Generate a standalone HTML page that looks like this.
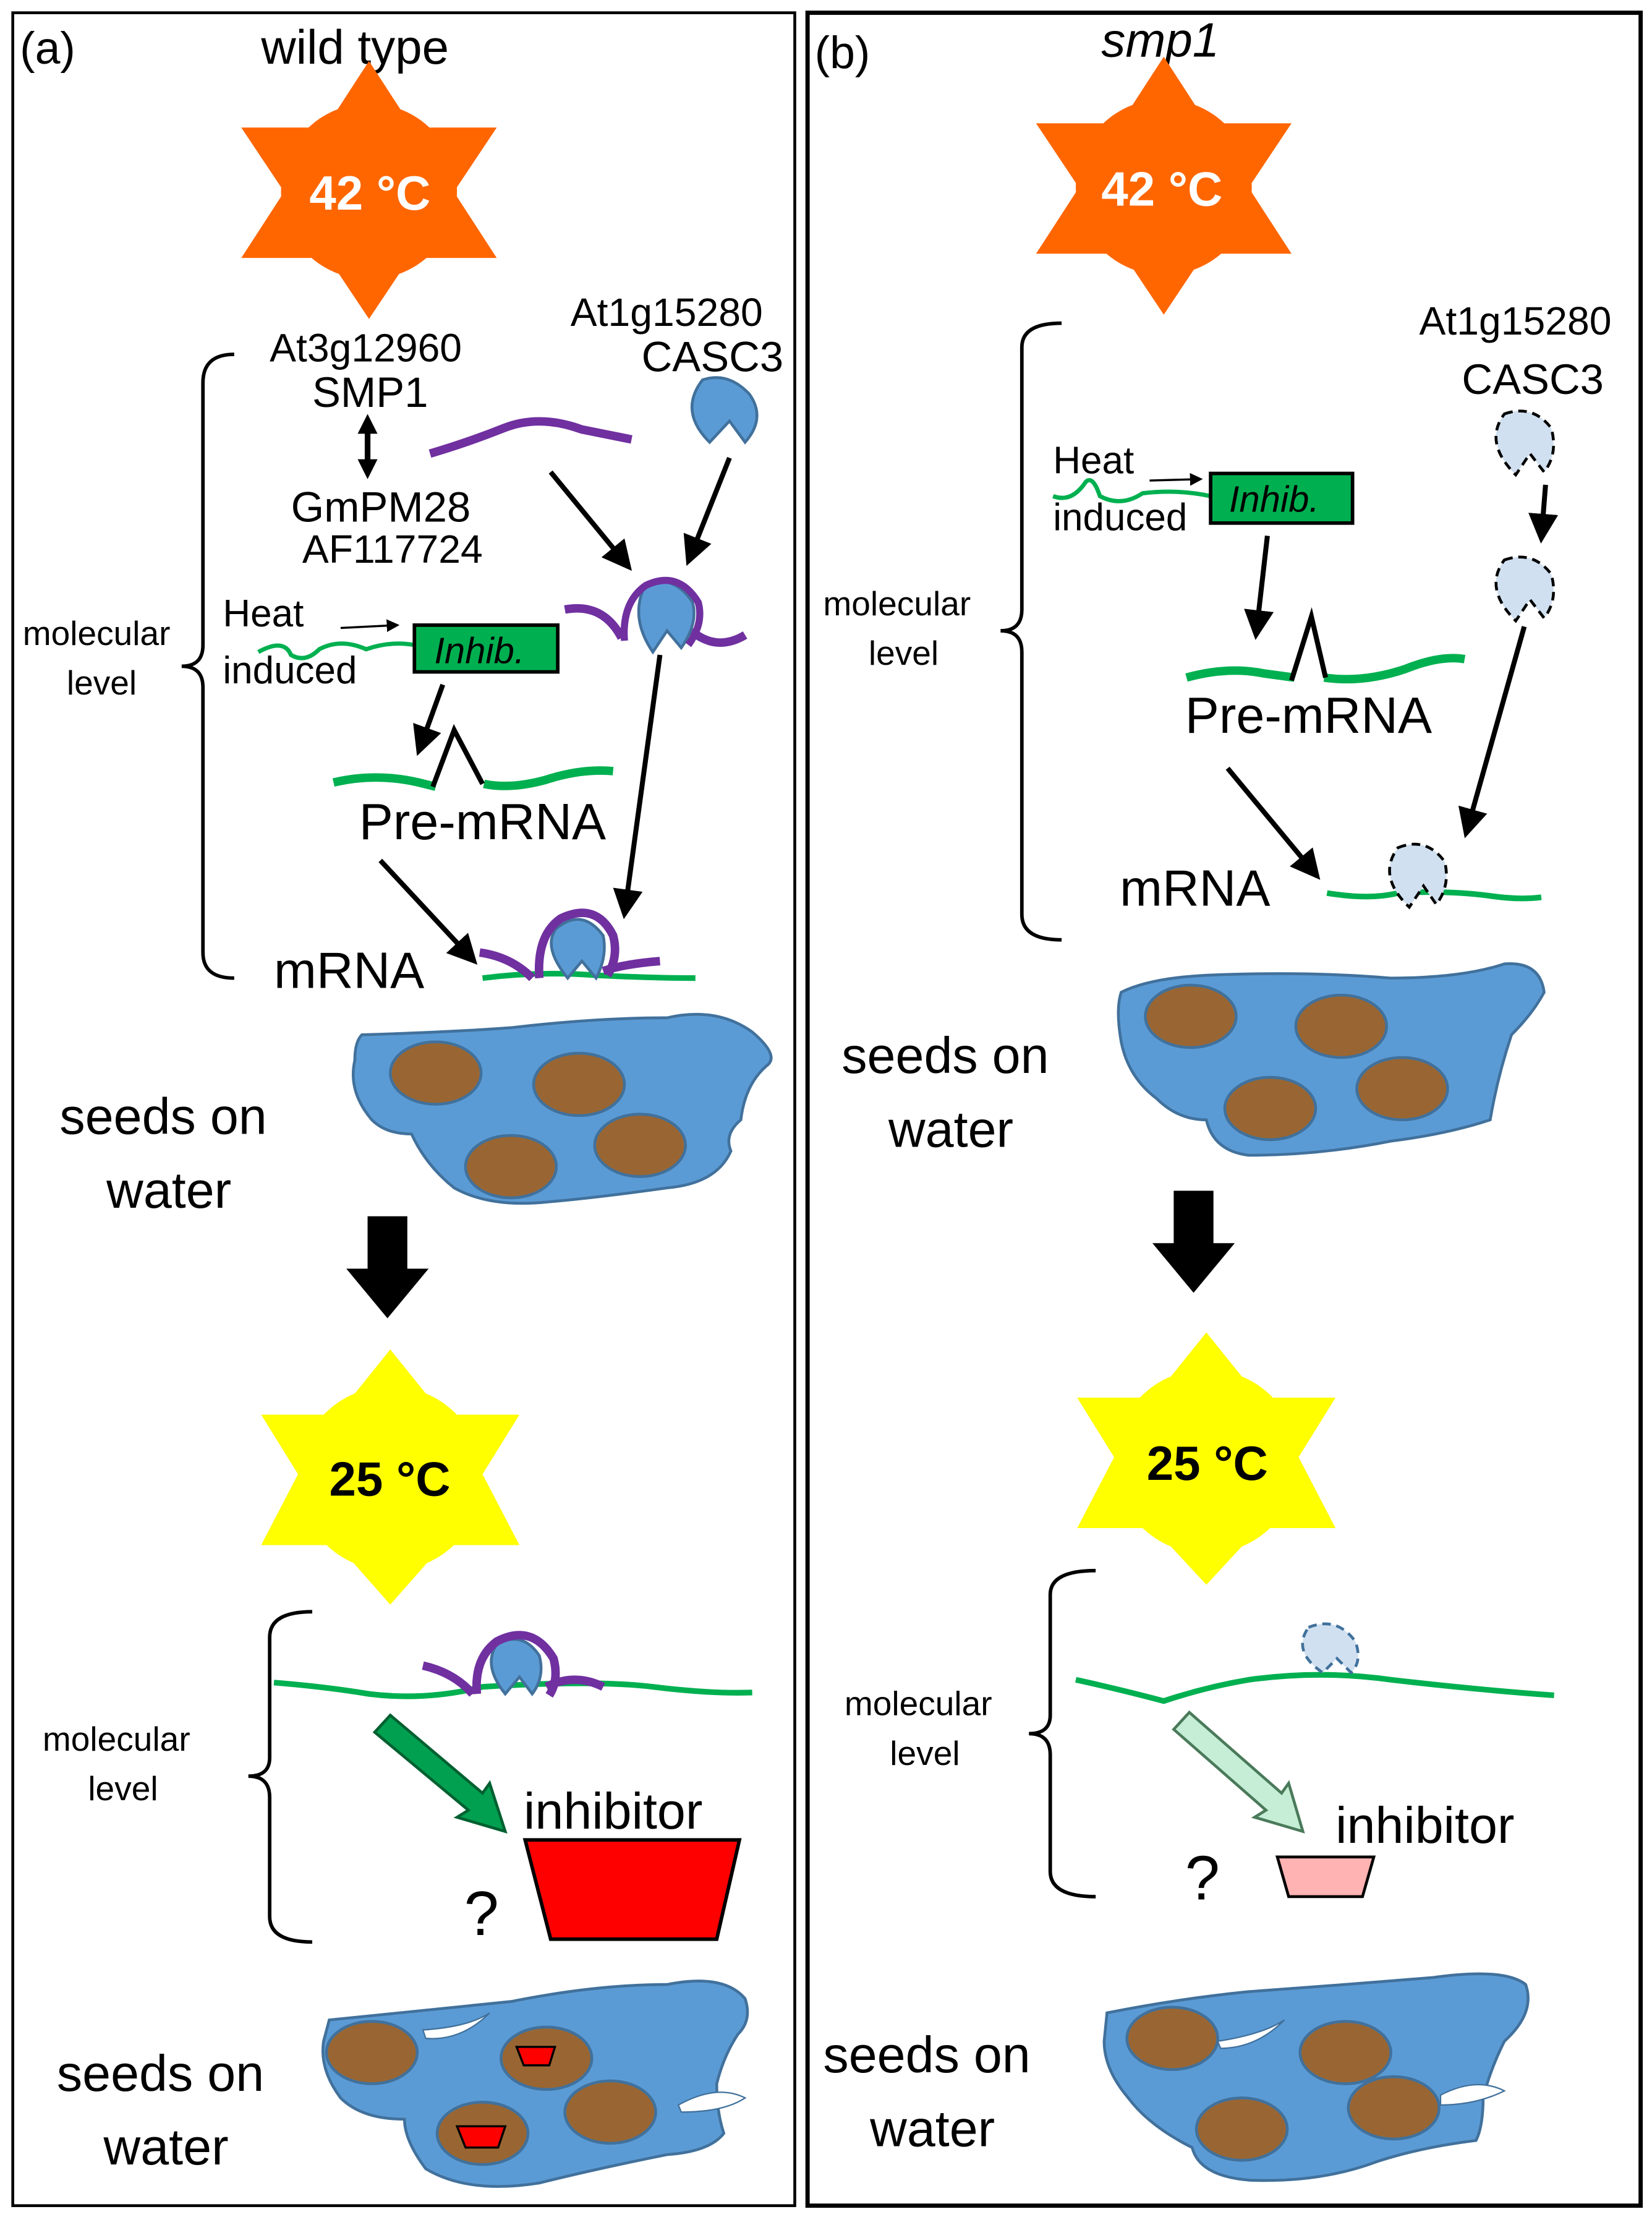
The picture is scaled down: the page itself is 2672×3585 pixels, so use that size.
<!DOCTYPE html>
<html><head><meta charset="utf-8"><style>html,body{margin:0;padding:0;background:#fff}svg{display:block}</style></head>
<body>
<svg width="2672" height="3585" viewBox="0 0 1164 1564" preserveAspectRatio="none" xmlns="http://www.w3.org/2000/svg" font-family="Liberation Sans, DejaVu Sans, sans-serif">
<defs>
<marker id="ah" markerWidth="6" markerHeight="6" refX="5" refY="3" orient="auto" markerUnits="strokeWidth"><path d="M0,0 L6,3 L0,6 z" fill="#000"/></marker>
</defs>
<!-- panels -->
<rect x="9" y="9" width="551" height="1547" fill="none" stroke="#000" stroke-width="2"/>
<rect x="569" y="9" width="587" height="1547" fill="none" stroke="#000" stroke-width="3"/>
<text x="14" y="45" font-size="32">(a)</text>
<text x="184" y="45" font-size="34">wild type</text>
<text x="574" y="48" font-size="32">(b)</text>
<text x="776" y="40" font-size="34" font-style="italic">smp1</text>

<!-- stars -->
<polygon points="260,43 350,93 350,180 260,225 170,180 170,93" fill="none"/>
<polygon points="260,43 350,182 170,182" fill="#ff6600"/>
<polygon points="260,225 350,90 170,90" fill="#ff6600"/>
<circle cx="260" cy="135" r="62" fill="#ff6600"/>
<text x="218" y="148" font-size="34" font-weight="bold" fill="#fff">42 °C</text>
<polygon points="820,40 910,179 730,179" fill="#ff6600"/>
<polygon points="820,222 910,87 730,87" fill="#ff6600"/>
<circle cx="820" cy="132" r="62" fill="#ff6600"/>
<text x="776" y="145" font-size="34" font-weight="bold" fill="#fff">42 °C</text>

<polygon points="275,952 312,998 366,998 340,1040 366,1090 312,1090 275,1132 238,1090 184,1090 210,1040 184,998 238,998" fill="#ffff00"/>
<circle cx="275" cy="1043" r="65" fill="#ffff00"/>
<text x="232" y="1055" font-size="34" font-weight="bold">25 °C</text>
<polygon points="850,940 887,986 941,986 915,1028 941,1078 887,1078 850,1118 813,1078 759,1078 785,1028 759,986 813,986" fill="#ffff00"/>
<circle cx="850" cy="1031" r="65" fill="#ffff00"/>
<text x="808" y="1044" font-size="34" font-weight="bold">25 °C</text>

<!-- Panel a molecular -->
<path d="M165,250 Q143,250 143,270 L143,455 Q143,470 128,470 Q143,470 143,485 L143,672 Q143,690 165,690" fill="none" stroke="#000" stroke-width="2.5"/>
<text x="16" y="455" font-size="24">molecular</text>
<text x="47" y="490" font-size="24">level</text>
<text x="190" y="255" font-size="28">At3g12960</text>
<text x="220" y="287" font-size="30">SMP1</text>
<line x1="259" y1="305" x2="259" y2="325" stroke="#000" stroke-width="4"/>
<polygon points="252,306 266,306 259,292" fill="#000"/>
<polygon points="252,324 266,324 259,338" fill="#000"/>
<text x="205" y="368" font-size="30">GmPM28</text>
<text x="213" y="397" font-size="28">AF117724</text>
<text x="402" y="230" font-size="28">At1g15280</text>
<text x="452" y="262" font-size="30">CASC3</text>
<path d="M303,320 Q330,312 355,302 Q380,292 410,303 L445,310" fill="none" stroke="#7030a0" stroke-width="6"/>
<path d="M495,268 Q513,262 528,278 Q540,295 525,312 L514,297 L500,312 Q478,290 495,268 z" fill="#5b9bd5" stroke="#41719c" stroke-width="2"/>
<line x1="388" y1="333" x2="443" y2="400" stroke="#000" stroke-width="3.5" marker-end="url(#ah)"/>
<line x1="514" y1="323" x2="485" y2="396" stroke="#000" stroke-width="3.5" marker-end="url(#ah)"/>
<!-- complex 1 -->
<path d="M398,430 Q425,425 438,450 M487,445 Q505,460 525,448" fill="none" stroke="#7030a0" stroke-width="6"/>
<path d="M455,412 Q475,405 488,425 Q492,440 480,457 L470,445 L460,460 Q443,435 455,412 z" fill="#5b9bd5" stroke="#41719c" stroke-width="2"/>
<path d="M440,452 Q438,425 455,413 Q478,402 492,425 Q496,440 485,455" fill="none" stroke="#7030a0" stroke-width="5"/>
<!-- heat induced -->
<text x="157" y="442" font-size="27">Heat</text>
<text x="157" y="482" font-size="27">induced</text>
<line x1="240" y1="443" x2="280" y2="441" stroke="#000" stroke-width="1.5" marker-end="url(#ah)"/>
<path d="M182,460 Q200,450 205,462 Q215,468 225,458 Q240,450 258,458 Q275,452 292,455" fill="none" stroke="#00b050" stroke-width="3"/>
<rect x="292" y="441" width="101" height="33" fill="#00b050" stroke="#000" stroke-width="2.5"/>
<text x="306" y="468" font-size="26" font-style="italic">Inhib.</text>
<line x1="312" y1="483" x2="295" y2="530" stroke="#000" stroke-width="3.5" marker-end="url(#ah)"/>
<path d="M235,552 Q265,545 295,552 L307,555 M341,553 Q360,557 385,550 Q410,542 432,544" fill="none" stroke="#00b050" stroke-width="6"/>
<path d="M305,555 L320,515 L340,553" fill="none" stroke="#000" stroke-width="3.5"/>
<text x="253" y="592" font-size="36">Pre-mRNA</text>
<line x1="465" y1="462" x2="440" y2="645" stroke="#000" stroke-width="3.5" marker-end="url(#ah)"/>
<line x1="268" y1="607" x2="334" y2="678" stroke="#000" stroke-width="3.5" marker-end="url(#ah)"/>
<text x="193" y="697" font-size="36">mRNA</text>
<path d="M340,690 Q380,685 420,688 Q460,690 490,690" fill="none" stroke="#00b050" stroke-width="4"/>
<path d="M338,672 Q360,675 375,690 M425,685 Q440,680 465,678" fill="none" stroke="#7030a0" stroke-width="6"/>
<path d="M392,655 Q410,640 425,660 Q428,675 420,690 L410,678 L400,690 Q382,668 392,655 z" fill="#5b9bd5" stroke="#41719c" stroke-width="2"/>
<path d="M380,690 Q378,660 395,648 Q420,636 432,660 Q436,675 428,688" fill="none" stroke="#7030a0" stroke-width="6"/>

<!-- seeds a top -->
<path d="M255,730 Q320,728 360,725 Q420,718 470,718 Q505,710 530,728 Q550,745 540,752 Q525,765 522,790 Q510,800 515,812 Q505,835 470,838 Q420,845 385,848 Q345,852 320,838 Q300,822 290,800 Q272,800 262,790 Q245,770 250,748 Q250,735 255,730 z" fill="#5b9bd5" stroke="#41719c" stroke-width="2"/>
<ellipse cx="307" cy="757" rx="32" ry="22" fill="#996633" stroke="#41719c" stroke-width="2"/>
<ellipse cx="408" cy="765" rx="32" ry="22" fill="#996633" stroke="#41719c" stroke-width="2"/>
<ellipse cx="360" cy="823" rx="32" ry="22" fill="#996633" stroke="#41719c" stroke-width="2"/>
<ellipse cx="451" cy="808" rx="32" ry="22" fill="#996633" stroke="#41719c" stroke-width="2"/>
<text x="42" y="800" font-size="36">seeds on</text>
<text x="75" y="852" font-size="36">water</text>
<polygon points="259,858 287,858 287,895 302,895 273,930 244,895 259,895" fill="#000"/>

<!-- a bottom molecular -->
<path d="M220,1137 Q190,1137 190,1155 L190,1240 Q190,1253 175,1253 Q190,1253 190,1268 L190,1352 Q190,1370 220,1370" fill="none" stroke="#000" stroke-width="2.5"/>
<text x="30" y="1235" font-size="24">molecular</text>
<text x="62" y="1270" font-size="24">level</text>
<path d="M193,1187 Q230,1190 260,1195 Q300,1200 340,1190 Q420,1185 460,1190 Q500,1195 530,1194" fill="none" stroke="#00b050" stroke-width="4"/>
<path d="M298,1175 Q320,1180 333,1195 M385,1190 Q405,1180 425,1190" fill="none" stroke="#7030a0" stroke-width="6"/>
<path d="M350,1160 Q368,1150 380,1168 Q384,1183 375,1195 L366,1183 L356,1195 Q340,1175 350,1160 z" fill="#5b9bd5" stroke="#41719c" stroke-width="2"/>
<path d="M336,1195 Q334,1170 350,1158 Q375,1145 390,1170 Q394,1185 387,1196" fill="none" stroke="#7030a0" stroke-width="6"/>
<polygon points="275,1210 340,1265 345,1258 356,1292 322,1282 330,1277 264,1222" fill="#00a050" stroke="#006030" stroke-width="2"/>
<text x="369" y="1290" font-size="36">inhibitor</text>
<polygon points="370,1298 521,1298 505,1368 388,1368" fill="#ff0000" stroke="#000" stroke-width="2.5"/>
<text x="327" y="1365" font-size="44">?</text>

<!-- seeds a bottom -->
<path d="M232,1425 Q300,1418 360,1412 Q420,1400 470,1400 Q510,1392 525,1410 Q530,1425 520,1435 Q510,1450 505,1470 Q505,1490 510,1505 Q500,1518 470,1520 Q420,1530 380,1540 Q330,1548 300,1530 Q285,1510 285,1495 Q255,1495 240,1480 Q225,1460 228,1440 z" fill="#5b9bd5" stroke="#41719c" stroke-width="2"/>
<path d="M298,1432 Q330,1430 345,1420 Q325,1440 300,1438 z" fill="#fff" stroke="#41719c"/>
<path d="M478,1485 Q505,1470 525,1480 Q510,1490 480,1490 z" fill="#fff" stroke="#41719c"/>
<ellipse cx="262" cy="1448" rx="32" ry="22" fill="#996633" stroke="#41719c" stroke-width="2"/>
<ellipse cx="385" cy="1452" rx="32" ry="22" fill="#996633" stroke="#41719c" stroke-width="2"/>
<ellipse cx="430" cy="1490" rx="32" ry="22" fill="#996633" stroke="#41719c" stroke-width="2"/>
<ellipse cx="340" cy="1505" rx="32" ry="22" fill="#996633" stroke="#41719c" stroke-width="2"/>
<polygon points="364,1444 391,1444 387,1457 369,1457" fill="#ff0000" stroke="#000" stroke-width="1.5"/>
<polygon points="322,1500 356,1500 351,1515 328,1515" fill="#ff0000" stroke="#000" stroke-width="1.5"/>
<text x="40" y="1475" font-size="36">seeds on</text>
<text x="73" y="1527" font-size="36">water</text>

<!-- Panel b molecular -->
<path d="M748,228 Q720,228 720,245 L720,430 Q720,445 705,445 Q720,445 720,460 L720,645 Q720,663 748,663" fill="none" stroke="#000" stroke-width="2.5"/>
<text x="580" y="434" font-size="24">molecular</text>
<text x="612" y="469" font-size="24">level</text>
<text x="1000" y="236" font-size="28">At1g15280</text>
<text x="1030" y="278" font-size="30">CASC3</text>
<path d="M1060,292 Q1080,285 1093,302 Q1098,320 1088,333 L1078,320 L1068,335 Q1045,312 1060,292 z" fill="#d0e0f0" stroke="#000" stroke-width="2" stroke-dasharray="6,4"/>
<line x1="1089" y1="342" x2="1086" y2="380" stroke="#000" stroke-width="3.5" marker-end="url(#ah)"/>
<path d="M1060,395 Q1080,388 1093,405 Q1098,423 1088,436 L1078,423 L1068,438 Q1045,415 1060,395 z" fill="#d0e0f0" stroke="#000" stroke-width="2" stroke-dasharray="6,4"/>
<line x1="1074" y1="442" x2="1033" y2="588" stroke="#000" stroke-width="3.5" marker-end="url(#ah)"/>
<text x="742" y="334" font-size="27">Heat</text>
<text x="742" y="374" font-size="27">induced</text>
<line x1="810" y1="339" x2="846" y2="338" stroke="#000" stroke-width="1.5" marker-end="url(#ah)"/>
<path d="M742,350 Q755,355 765,340 Q770,335 775,350 Q790,358 805,348 Q830,345 853,350" fill="none" stroke="#00b050" stroke-width="3"/>
<rect x="853" y="334" width="100" height="35" fill="#00b050" stroke="#000" stroke-width="2.5"/>
<text x="866" y="361" font-size="26" font-style="italic">Inhib.</text>
<line x1="893" y1="378" x2="885" y2="448" stroke="#000" stroke-width="3.5" marker-end="url(#ah)"/>
<path d="M836,478 Q865,470 890,475 L912,478 M933,478 Q960,482 990,472 Q1015,462 1032,465" fill="none" stroke="#00b050" stroke-width="6"/>
<path d="M910,480 L924,435 L934,478" fill="none" stroke="#000" stroke-width="3.5"/>
<text x="835" y="517" font-size="36">Pre-mRNA</text>
<line x1="865" y1="542" x2="928" y2="618" stroke="#000" stroke-width="3.5" marker-end="url(#ah)"/>
<text x="789" y="639" font-size="36">mRNA</text>
<path d="M935,630 Q965,635 985,630 Q1020,628 1050,632 Q1070,635 1086,633" fill="none" stroke="#00b050" stroke-width="4"/>
<path d="M985,598 Q1005,590 1018,608 Q1022,625 1012,638 L1003,625 L993,640 Q970,618 985,598 z" fill="#d0e0f0" stroke="#000" stroke-width="2" stroke-dasharray="6,4"/>

<!-- seeds b top -->
<path d="M790,700 Q810,690 850,688 Q920,685 980,690 Q1030,690 1060,680 Q1085,678 1088,700 Q1080,715 1065,730 Q1055,760 1050,790 Q1020,800 980,805 Q930,815 880,815 Q855,812 850,790 Q830,790 815,775 Q795,760 790,735 Q786,712 790,700 z" fill="#5b9bd5" stroke="#41719c" stroke-width="2"/>
<ellipse cx="839" cy="717" rx="32" ry="22" fill="#996633" stroke="#41719c" stroke-width="2"/>
<ellipse cx="945" cy="724" rx="32" ry="22" fill="#996633" stroke="#41719c" stroke-width="2"/>
<ellipse cx="895" cy="782" rx="32" ry="22" fill="#996633" stroke="#41719c" stroke-width="2"/>
<ellipse cx="988" cy="768" rx="32" ry="22" fill="#996633" stroke="#41719c" stroke-width="2"/>
<text x="593" y="757" font-size="36">seeds on</text>
<text x="626" y="809" font-size="36">water</text>
<polygon points="827,840 855,840 855,877 870,877 841,912 812,877 827,877" fill="#000"/>

<!-- b bottom molecular -->
<path d="M772,1108 Q740,1108 740,1125 L740,1210 Q740,1223 725,1223 Q740,1223 740,1238 L740,1320 Q740,1338 772,1338" fill="none" stroke="#000" stroke-width="2.5"/>
<text x="595" y="1210" font-size="24">molecular</text>
<text x="627" y="1245" font-size="24">level</text>
<path d="M758,1185 Q790,1192 820,1200 Q850,1190 880,1185 Q930,1178 980,1185 Q1040,1192 1095,1196" fill="none" stroke="#00b050" stroke-width="4"/>
<path d="M922,1148 Q942,1140 955,1158 Q960,1172 952,1180 L942,1170 L932,1180 Q910,1165 922,1148 z" fill="#d0e0f0" stroke="#41719c" stroke-width="2" stroke-dasharray="6,4"/>
<polygon points="838,1208 903,1265 908,1258 918,1292 884,1282 892,1277 827,1220" fill="#c6eed6" stroke="#4a7a5a" stroke-width="2"/>
<text x="941" y="1300" font-size="36">inhibitor</text>
<polygon points="900,1310 968,1310 960,1338 908,1338" fill="#ffb3b3" stroke="#000" stroke-width="2"/>
<text x="835" y="1340" font-size="44">?</text>

<!-- seeds b bottom -->
<path d="M780,1420 Q830,1410 880,1405 Q950,1400 1010,1395 Q1060,1388 1075,1400 Q1082,1420 1060,1440 Q1050,1460 1045,1480 Q1045,1500 1040,1510 Q1000,1515 970,1525 Q930,1540 880,1538 Q845,1535 840,1515 Q810,1500 795,1480 Q778,1460 778,1440 z" fill="#5b9bd5" stroke="#41719c" stroke-width="2"/>
<path d="M858,1440 Q890,1435 905,1425 Q885,1445 860,1445 z" fill="#fff" stroke="#41719c"/>
<path d="M1015,1478 Q1040,1465 1060,1475 Q1040,1485 1015,1485 z" fill="#fff" stroke="#41719c"/>
<ellipse cx="826" cy="1438" rx="32" ry="22" fill="#996633" stroke="#41719c" stroke-width="2"/>
<ellipse cx="948" cy="1448" rx="32" ry="22" fill="#996633" stroke="#41719c" stroke-width="2"/>
<ellipse cx="982" cy="1487" rx="32" ry="22" fill="#996633" stroke="#41719c" stroke-width="2"/>
<ellipse cx="875" cy="1502" rx="32" ry="22" fill="#996633" stroke="#41719c" stroke-width="2"/>
<text x="580" y="1462" font-size="36">seeds on</text>
<text x="613" y="1514" font-size="36">water</text>
</svg>
</body></html>
